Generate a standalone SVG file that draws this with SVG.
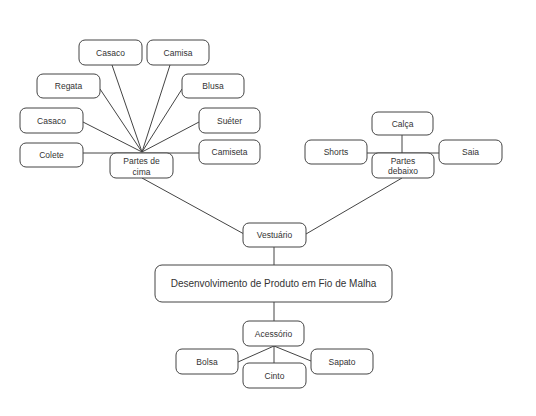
<svg xmlns="http://www.w3.org/2000/svg" width="536" height="416" viewBox="0 0 536 416">
<style>
.n rect{fill:#fff;stroke:#444;stroke-width:1;}
.n text{font-family:"Liberation Sans",Arial,sans-serif;font-size:8.5px;fill:#333;text-anchor:middle;dominant-baseline:central;}
.c line{stroke:#444;stroke-width:1;}
</style>
<rect width="536" height="416" fill="#fff"/>
<g class="c">
<line x1="112" y1="65" x2="142" y2="152"/>
<line x1="170" y1="65" x2="142" y2="152"/>
<line x1="100" y1="89" x2="142" y2="152"/>
<line x1="182" y1="89" x2="142" y2="152"/>
<line x1="83" y1="122" x2="142" y2="152"/>
<line x1="199" y1="122" x2="142" y2="152"/>
<line x1="83" y1="153" x2="199" y2="153"/>
<line x1="142" y1="178" x2="244" y2="234"/>
<line x1="402" y1="135" x2="402" y2="153"/>
<line x1="367" y1="153" x2="439" y2="153"/>
<line x1="402" y1="178" x2="306" y2="234"/>
<line x1="274" y1="247" x2="274" y2="265"/>
<line x1="274" y1="302" x2="274" y2="321"/>
<line x1="274" y1="346" x2="238" y2="362"/>
<line x1="274" y1="346" x2="274" y2="363"/>
<line x1="274" y1="346" x2="311" y2="361"/>
</g>
<g id="casaco1" class="n"><rect x="79" y="40" width="63" height="25" rx="6"/><text x="110.5" y="52.5">Casaco</text></g>
<g id="camisa" class="n"><rect x="147" y="40" width="62" height="25" rx="6"/><text x="178" y="52.5">Camisa</text></g>
<g id="regata" class="n"><rect x="37" y="74" width="63" height="24" rx="6"/><text x="68.5" y="86">Regata</text></g>
<g id="blusa" class="n"><rect x="182" y="74" width="62" height="24" rx="6"/><text x="213" y="86">Blusa</text></g>
<g id="casaco2" class="n"><rect x="20" y="108" width="63" height="25" rx="6"/><text x="51.5" y="120.5">Casaco</text></g>
<g id="sueter" class="n"><rect x="199" y="108" width="61" height="25" rx="6"/><text x="229.5" y="120.5">Suéter</text></g>
<g id="colete" class="n"><rect x="20" y="143" width="63" height="24" rx="6"/><text x="51.5" y="155">Colete</text></g>
<g id="camiseta" class="n"><rect x="199" y="140" width="61" height="24" rx="6"/><text x="229.5" y="152">Camiseta</text></g>
<g id="partes-cima" class="n"><rect x="110" y="153" width="63" height="25" rx="6"/><text x="141.5" y="160.5">Partes de</text><text x="141.5" y="171.5">cima</text></g>
<g id="calca" class="n"><rect x="372" y="112" width="61" height="23" rx="6"/><text x="402.5" y="123.5">Calça</text></g>
<g id="shorts" class="n"><rect x="305" y="140" width="62" height="24" rx="6"/><text x="336" y="152">Shorts</text></g>
<g id="saia" class="n"><rect x="439" y="140" width="63" height="24" rx="6"/><text x="470.5" y="152">Saia</text></g>
<g id="partes-debaixo" class="n"><rect x="372" y="153" width="62" height="25" rx="6"/><text x="403" y="160.5">Partes</text><text x="403" y="171">debaixo</text></g>
<g id="vestuario" class="n"><rect x="243" y="223" width="63" height="24" rx="6"/><text x="274.5" y="235">Vestuário</text></g>
<g id="main" class="n"><rect x="155" y="265" width="237" height="37" rx="7"/><text x="273.5" y="283.5" style="font-size:10px">Desenvolvimento de Produto em Fio de Malha</text></g>
<g id="acessorio" class="n"><rect x="243" y="321" width="61" height="25" rx="6"/><text x="273.5" y="333.5">Acessório</text></g>
<g id="bolsa" class="n"><rect x="176" y="349" width="62" height="25" rx="6"/><text x="207" y="361.5">Bolsa</text></g>
<g id="cinto" class="n"><rect x="243" y="363" width="63" height="25" rx="6"/><text x="274.5" y="375.5">Cinto</text></g>
<g id="sapato" class="n"><rect x="311" y="349" width="62" height="25" rx="6"/><text x="342" y="361.5">Sapato</text></g>
</svg>
